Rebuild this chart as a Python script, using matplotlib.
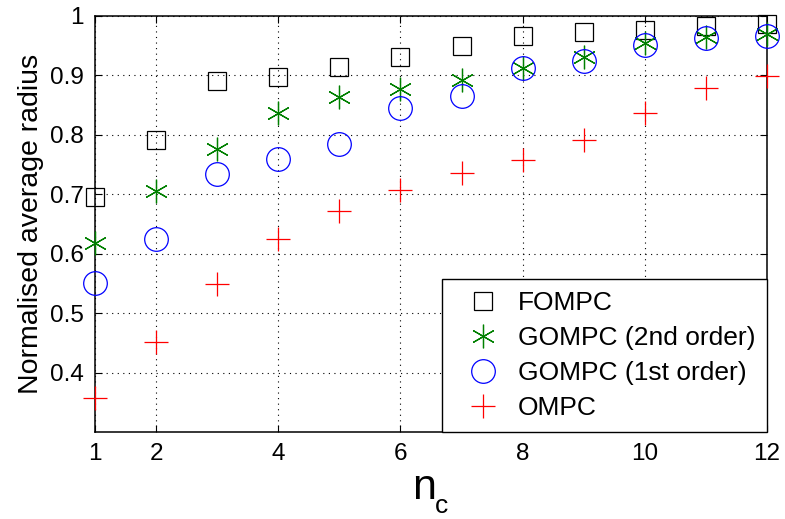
import matplotlib
matplotlib.use("Agg")
import matplotlib.pyplot as plt

plt.rcParams['font.family'] = ['Liberation Sans', 'DejaVu Sans']

nc = [1, 2, 3, 4, 5, 6, 7, 8, 9, 10, 11, 12]
fompc = [0.695, 0.791, 0.891, 0.897, 0.915, 0.931, 0.949, 0.966, 0.973, 0.976, 0.983, 0.987]
gompc2 = [0.618, 0.705, 0.776, 0.836, 0.864, 0.877, 0.892, 0.912, 0.931, 0.954, 0.965, 0.970]
gompc1 = [0.550, 0.624, 0.734, 0.759, 0.784, 0.846, 0.865, 0.912, 0.924, 0.951, 0.963, 0.967]
ompc = [0.358, 0.451, 0.549, 0.625, 0.672, 0.707, 0.736, 0.758, 0.791, 0.837, 0.879, 0.899]

xticks = [1, 2, 4, 6, 8, 10, 12]
yticks = [0.4, 0.5, 0.6, 0.7, 0.8, 0.9, 1.0]
ytick_labels = ['0.4', '0.5', '0.6', '0.7', '0.8', '0.9', '1']

fig = plt.figure(figsize=(7.85, 5.19), dpi=100)
ax = fig.add_axes([95/785, 87/519, 672/785, 416/519])

asterisk = (6, 2, 0)
ax.plot(nc, fompc, linestyle='none', marker='s', markersize=13, markerfacecolor='none',
        markeredgecolor='k', markeredgewidth=0.9, label='FOMPC', clip_on=False, zorder=3)
ax.plot(nc, gompc2, linestyle='none', marker=asterisk, markersize=17, markerfacecolor='none',
        markeredgecolor='#008000', markeredgewidth=0.9, color='#008000', label='GOMPC (2nd order)', clip_on=False, zorder=3)
ax.plot(nc, gompc1, linestyle='none', marker='o', markersize=17, markerfacecolor='none',
        markeredgecolor='b', markeredgewidth=0.9, label='GOMPC (1st order)', clip_on=False, zorder=3)
ax.plot(nc, ompc, linestyle='none', marker='+', markersize=17, markeredgecolor='r',
        markeredgewidth=0.9, label='OMPC', clip_on=False, zorder=3)

ax.set_xlim(1, 12)
ax.set_ylim(0.3, 1.0)
ax.set_xticks(xticks)
ax.set_yticks(yticks)
ax.set_yticklabels(ytick_labels)
ax.tick_params(direction='in', top=True, right=True, labelsize=17.5, length=5, width=0.8, pad=8)
ax.grid(True, linestyle=(0, (1, 4)), color='k', linewidth=0.8)
for s in ax.spines.values():
    s.set_linewidth(1.1)

ax.set_ylabel('Normalised average radius', fontsize=20.5, labelpad=4)

# x label "n" with subscript "c"
fig.text(412/785, (519-499)/519, 'n', fontsize=31, ha='left', va='baseline')
fig.text(435/785, (519-513)/519, 'c', fontsize=19, ha='left', va='baseline')

leg = ax.legend(loc='lower right', fontsize=19, frameon=True, fancybox=False, borderaxespad=0,
                framealpha=1, edgecolor='k', handletextpad=0.2, labelspacing=0.42,
                borderpad=0.45, handlelength=2.2)
leg.get_frame().set_linewidth(1.0)

fig.savefig('out.png', dpi=100)
